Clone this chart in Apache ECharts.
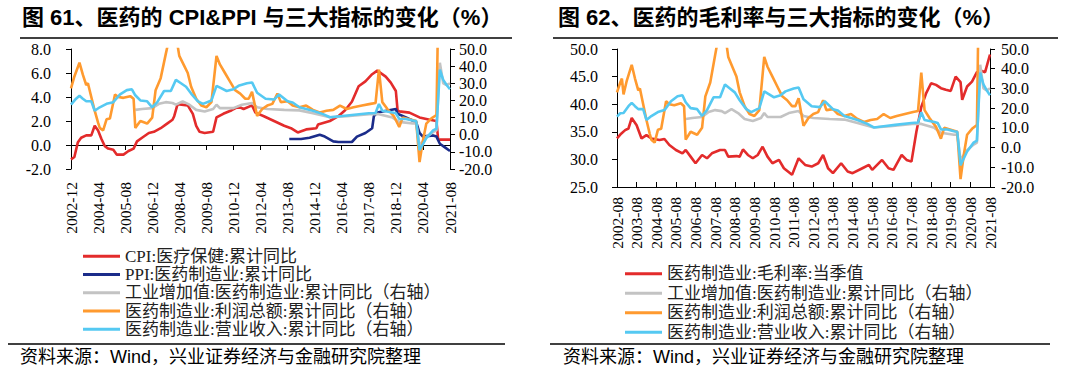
<!DOCTYPE html>
<html><head><meta charset="utf-8">
<script src="https://cdn.jsdelivr.net/npm/echarts@6/dist/echarts.min.js"></script>
<style>html,body{margin:0;padding:0;background:#fff}#c{width:1078px;height:384px}</style>
</head><body><div id="c"></div>
<script>
// ---------- categories / ticks ----------
const range1 = ['2002-12', '2021-08'];
const range2 = ['2002-08', '2021-08'];
const ticks1 = ['2002-12','2004-04','2005-08','2006-12','2008-04','2009-08','2010-12','2012-04','2013-08','2014-12','2016-04','2017-08','2018-12','2020-04','2021-08'];
const ticks2 = ['2002-08','2003-08','2004-08','2005-08','2006-08','2007-08','2008-08','2009-08','2010-08','2011-08','2012-08','2013-08','2014-08','2015-08','2016-08','2017-08','2018-08','2019-08','2020-08','2021-08'];

// ---------- chart 61 left-axis series ----------
const cpiDates = ['2002-12','2003-02','2003-04','2003-06','2003-09','2003-12','2004-02','2004-04','2004-06','2004-08','2004-10','2005-01','2005-03','2005-07','2005-10','2006-01','2006-03','2006-06','2006-10','2007-01','2007-05','2007-09','2007-12','2008-01','2008-03','2008-09','2008-12','2009-02','2009-04','2009-07','2009-12','2010-02','2010-06','2010-11','2011-03','2011-06','2011-11','2012-01','2012-06','2012-12','2013-06','2013-10','2014-02','2014-07','2015-01','2015-02','2015-09','2016-02','2016-06','2016-10','2017-02','2017-06','2017-10','2018-01','2018-06','2018-09','2018-12','2019-01','2019-02','2019-08','2020-02','2020-08','2020-12','2021-01','2021-08'];
const cpiValues = [-1.2,-1.0,0.2,0.6,0.8,0.8,1.6,1.2,0.5,-0.1,-0.3,-0.4,-0.8,-0.8,-0.5,-0.3,0.3,0.6,1.0,1.1,1.4,1.8,2.1,2.4,3.4,3.3,2.6,1.6,1.1,1.0,1.1,2.3,2.6,2.9,3.2,3.0,3.3,2.7,2.4,2.0,1.6,1.4,1.05,1.3,1.4,1.7,2.0,2.4,2.9,3.6,4.9,5.3,5.9,6.2,5.7,5.2,4.5,2.9,2.8,2.7,2.3,2.1,2.0,0.45,0.45];

const ppiDates = ['2013-09','2014-04','2014-09','2015-03','2015-06','2015-11','2016-02','2016-10','2017-01','2017-06','2017-10','2017-11','2018-01','2018-08','2018-12','2019-01','2019-06','2019-12','2020-02','2020-04','2020-10','2020-12','2021-02','2021-05','2021-08'];
const ppiValues = [0.5,0.5,0.6,0.85,0.7,0.3,0.25,0.25,0.7,1.0,1.4,2.4,2.7,2.9,3.0,2.6,2.3,1.9,1.0,0.7,0.8,0.7,0.1,-0.2,-0.5];

// ---------- shared right-axis series ----------
const vaDates = ['2006-02','2006-06','2006-12','2007-04','2007-08','2007-12','2008-02','2008-06','2008-10','2009-02','2009-07','2009-12','2010-02','2010-04','2010-12','2011-05','2011-11','2012-02','2012-08','2013-06','2014-03','2014-11','2015-09','2016-07','2017-10','2018-02','2018-10','2019-02','2019-10','2019-12','2020-02','2020-06','2020-10','2020-12','2021-02','2021-04','2021-06','2021-08'];
const vaValues = [14.5,15,15.5,18,19,18.5,17.5,19.5,17.5,14.5,13.5,15,17.5,15.5,15.5,17.5,18.5,16,15,14.5,14.2,12.5,10.2,10.8,12.1,12,10,7.5,6.5,6.6,-6.2,-1.3,1.5,2.5,42,30,29,30];

const profitDates = ['2002-08','2002-10','2002-11','2002-12','2003-02','2003-05','2003-07','2003-09','2003-10','2003-12','2004-02','2004-04','2004-05','2004-07','2004-09','2004-11','2005-02','2005-04','2005-07','2005-11','2006-01','2006-02','2006-05','2006-09','2006-12','2007-02','2007-05','2007-08','2007-10','2008-02','2008-04','2008-07','2008-09','2008-11','2009-02','2009-05','2009-08','2009-11','2010-02','2010-04','2010-07','2010-10','2011-01','2011-04','2011-07','2011-09','2011-11','2012-02','2012-05','2012-08','2012-11','2013-02','2013-04','2013-08','2013-11','2014-03','2014-07','2014-11','2015-03','2015-07','2015-11','2016-03','2016-07','2016-11','2017-04','2017-09','2017-12','2018-02','2018-04','2018-07','2018-11','2019-02','2019-04','2019-08','2019-12','2020-02','2020-04','2020-06','2020-09','2020-12','2021-02','2021-04','2021-06','2021-08'];
const profitValues = [28,33,35,27,34,42,35,29,30,22,14,7,4,2.5,9,9.5,23.5,22,21.5,22.5,21,4,8,6.5,10,26,33,47,56,58,46,40,36,28,21,17,16,19,46,41,36,31,26,24,21,21,25,11,15,17,18,24,19,19.5,17,16,17,14.5,13,14,14.5,17,15,16,17,18,18.5,38,19,15,10.5,4.5,10,9,8,-16,-3.5,6.5,9.5,11.5,130,80,75,68];

const revDates = ['2002-08','2002-10','2002-12','2003-03','2003-05','2003-07','2003-09','2003-12','2004-02','2004-05','2004-09','2005-01','2005-05','2005-09','2005-12','2006-02','2006-05','2006-09','2006-12','2007-03','2007-07','2007-11','2008-02','2008-05','2008-08','2008-11','2009-03','2009-06','2009-11','2010-02','2010-05','2010-08','2010-12','2011-03','2011-08','2011-11','2012-02','2012-07','2012-12','2013-03','2013-08','2013-11','2014-03','2014-11','2015-05','2015-09','2016-03','2016-10','2017-08','2017-12','2018-02','2018-04','2018-10','2018-12','2019-02','2019-06','2019-10','2019-12','2020-02','2020-06','2020-10','2020-12','2021-02','2021-04','2021-06','2021-08'];
const revValues = [15.7,17.4,17.5,21,22.7,21,19.5,19.5,14,16,18,19,23.5,26,26.5,23,20,19.5,16,19,25.5,25.5,32,30,28,24,19.5,18,20,28.5,27,25.5,26.5,28.5,30,30.5,24.5,21,20.5,23.5,19.5,18.8,16,14,12,10.2,10.8,11.5,12.5,12.7,17.9,14,13,12.5,9.2,9.2,8.3,8,-9,-2,2.5,3.5,38,32,29,26.5];

// ---------- chart 62 left-axis series ----------
const gmDates = ['2002-08','2002-10','2003-01','2003-03','2003-05','2003-08','2003-11','2004-02','2004-05','2004-10','2005-01','2005-04','2005-08','2005-12','2006-02','2006-05','2006-08','2006-12','2007-03','2007-06','2007-11','2008-02','2008-04','2008-09','2008-11','2009-01','2009-04','2009-07','2009-10','2010-01','2010-04','2010-07','2010-11','2011-02','2011-07','2011-11','2012-03','2012-07','2012-11','2013-02','2013-05','2013-08','2014-01','2014-05','2014-08','2015-02','2015-06','2015-08','2016-02','2016-06','2016-09','2017-02','2017-05','2017-08','2017-11','2018-02','2018-05','2018-08','2018-11','2019-02','2019-05','2019-08','2019-11','2020-02','2020-03','2020-06','2020-09','2020-12','2021-03','2021-05','2021-08'];
const gmValues = [33.8,34.5,35.3,35.6,37.5,36.2,33.8,34.4,33.8,33.5,33.7,32.6,31.7,31.1,31.7,30.5,29.3,30.8,30.2,31.1,31.7,31.7,30.5,30.6,30.5,31.8,30.8,30.2,30.8,32.3,30.5,29.3,29.9,28.4,27.2,30.2,29.0,28.7,29.3,30.8,28.4,27.5,29.3,27.8,27.5,28.4,29.0,28.1,29.9,28.4,28.1,30.8,29.9,29.6,35.0,39.5,42.0,43.8,43.5,42.9,42.6,42.4,45.0,44.0,40.8,43.2,44.1,45.8,46.0,45.8,49.0];

// ---------- names ----------
const N = {
  cpi: 'CPI:医疗保健:累计同比',
  ppi: 'PPI:医药制造业:累计同比',
  va: '工业增加值:医药制造业:累计同比（右轴）',
  profit: '医药制造业:利润总额:累计同比（右轴）',
  rev: '医药制造业:营业收入:累计同比（右轴）',
  gm: '医药制造业:毛利率:当季值'
};
const C = { cpi:'#E32B2B', ppi:'#1B2C8A', va:'#C3C3C3', profit:'#FF9A2F', rev:'#55C9F2', gm:'#E32B2B' };

// ---------- helpers ----------
function monthRange(a, b) {
  let [y, m] = a.split('-').map(Number);
  const [yb, mb] = b.split('-').map(Number);
  const out = [];
  while (y < yb || (y === yb && m <= mb)) {
    out.push(y + '-' + String(m).padStart(2, '0'));
    m++; if (m > 12) { m = 1; y++; }
  }
  return out;
}
const pairs = (d, v, from) => d.map((x, i) => [x, v[i]]).filter(p => !from || p[0] >= from);
const cats1 = monthRange(range1[0], range1[1]);
const cats2 = monthRange(range2[0], range2[1]);

const NUM = "'Liberation Serif', 'Times New Roman', serif";
const LEG = "'Liberation Serif', 'Noto Sans CJK SC', serif";
const SANS = "'Liberation Sans', 'Noto Sans CJK SC', sans-serif";
const fmt = v => v.toFixed(1);

function line(name, xi, yi, data, color) {
  return { name, type: 'line', xAxisIndex: xi, yAxisIndex: yi, data, symbol: 'none',
    lineStyle: { color, width: 2.6 }, itemStyle: { color }, clip: true, animation: false };
}

const yBase = (grid, pos, min, max, interval, margin) => ({
  type: 'value', gridIndex: grid, position: pos, min, max, interval,
  splitLine: { show: false },
  axisLine: { show: true, onZero: false, lineStyle: { color: '#000', width: 1 } },
  axisTick: { show: true, length: 5, lineStyle: { color: '#000' } },
  axisLabel: { formatter: fmt, color: '#000', fontFamily: NUM, fontSize: 16, margin }
});

const option = {
  animation: false,
  backgroundColor: '#fff',
  grid: [
    { left: 71, top: 49, width: 379, height: 120, containLabel: false, outerBoundsMode: 'none' },
    { left: 617, top: 49, width: 373, height: 138, containLabel: false, outerBoundsMode: 'none' }
  ],
  xAxis: [
    { type: 'category', gridIndex: 0, data: cats1, boundaryGap: false, position: 'bottom',
      axisLine: { show: true, onZero: true, onZeroAxisIndex: 0, lineStyle: { color: '#000', width: 1 } },
      axisTick: { show: true, length: 5, interval: (i, v) => ticks1.includes(v), lineStyle: { color: '#000' } },
      axisLabel: { show: false }, splitLine: { show: false } },
    { type: 'category', gridIndex: 0, data: cats1, boundaryGap: false, position: 'bottom',
      axisLine: { show: false, onZero: false }, axisTick: { show: false },
      axisLabel: { rotate: 90, interval: (i, v) => ticks1.includes(v), color: '#000', fontFamily: NUM, fontSize: 15.5, margin: 13 },
      splitLine: { show: false } },
    { type: 'category', gridIndex: 1, data: cats2, boundaryGap: false, position: 'bottom',
      axisLine: { show: true, onZero: false, lineStyle: { color: '#000', width: 1 } },
      axisTick: { show: true, inside: true, length: 5, interval: (i, v) => ticks2.includes(v), lineStyle: { color: '#000' } },
      axisLabel: { rotate: 90, interval: (i, v) => ticks2.includes(v), color: '#000', fontFamily: NUM, fontSize: 15.5, margin: 10 },
      splitLine: { show: false } }
  ],
  yAxis: [
    yBase(0, 'left', -2, 8, 2, 20),
    yBase(0, 'right', -20, 50, 10, 9),
    yBase(1, 'left', 25, 50, 5, 19),
    yBase(1, 'right', -20, 50, 10, 11)
  ],
  legend: [
    { orient: 'vertical', left: 83, top: 247, padding: 0, itemGap: 0, itemWidth: 37, itemHeight: 3, icon: 'rect',
      selectedMode: false,
      textStyle: { fontFamily: LEG, fontSize: 17, lineHeight: 18.3, color: '#222' },
      data: [N.cpi, N.ppi, N.va, N.profit, N.rev] },
    { orient: 'vertical', left: 625, top: 264, padding: 0, itemGap: 0, itemWidth: 37, itemHeight: 3, icon: 'rect',
      selectedMode: false,
      textStyle: { fontFamily: LEG, fontSize: 17, lineHeight: 19.5, color: '#222' },
      data: [N.gm, N.va, N.profit, N.rev] }
  ],
  series: [
    line(N.cpi, 0, 0, pairs(cpiDates, cpiValues), C.cpi),
    line(N.ppi, 0, 0, pairs(ppiDates, ppiValues), C.ppi),
    line(N.va, 0, 1, pairs(vaDates, vaValues, range1[0]), C.va),
    line(N.profit, 0, 1, pairs(profitDates, profitValues, range1[0]), C.profit),
    line(N.rev, 0, 1, pairs(revDates, revValues, range1[0]), C.rev),
    line(N.gm, 2, 2, pairs(gmDates, gmValues), C.gm),
    line(N.va, 2, 3, pairs(vaDates, vaValues), C.va),
    line(N.profit, 2, 3, pairs(profitDates, profitValues), C.profit),
    line(N.rev, 2, 3, pairs(revDates, revValues), C.rev)
  ],
  graphic: [
    { type: 'text', left: 22, top: 6, style: { text: '图 61、医药的 CPI&PPI 与三大指标的变化（%）', fontSize: 22, fontWeight: 'bold', fontFamily: SANS, fill: '#000' } },
    { type: 'text', left: 558, top: 6, style: { text: '图 62、医药的毛利率与三大指标的变化（%）', fontSize: 22, fontWeight: 'bold', fontFamily: SANS, fill: '#000' } },
    { type: 'line', shape: { x1: 20, y1: 38, x2: 512, y2: 38 }, style: { stroke: '#000', lineWidth: 1.5 } },
    { type: 'line', shape: { x1: 553, y1: 38, x2: 1058, y2: 38 }, style: { stroke: '#000', lineWidth: 1.5 } },
    { type: 'line', shape: { x1: 8, y1: 344, x2: 505, y2: 344 }, style: { stroke: '#000', lineWidth: 1.5 } },
    { type: 'line', shape: { x1: 550, y1: 344, x2: 1050, y2: 344 }, style: { stroke: '#000', lineWidth: 1.5 } },
    { type: 'text', left: 20, top: 348, style: { text: '资料来源：Wind，兴业证券经济与金融研究院整理', fontSize: 18, fontFamily: SANS, fill: '#000' } },
    { type: 'text', left: 563, top: 348, style: { text: '资料来源：Wind，兴业证券经济与金融研究院整理', fontSize: 18, fontFamily: SANS, fill: '#000' } }
  ]
};

const chart = echarts.init(document.getElementById('c'), null, { renderer: 'svg', width: 1078, height: 384 });
chart.setOption(option);
</script></body></html>
